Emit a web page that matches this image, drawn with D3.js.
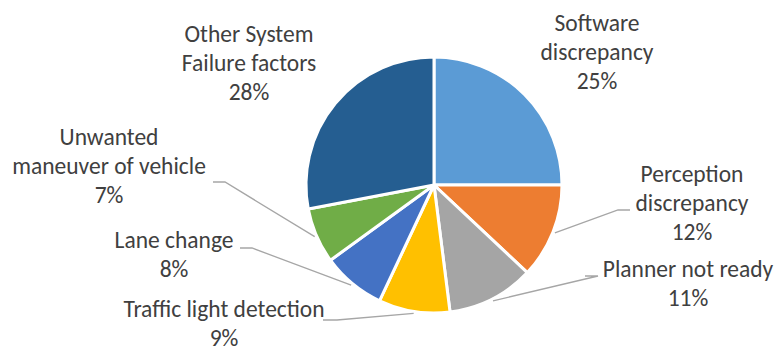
<!DOCTYPE html>
<html>
<head>
<meta charset="utf-8">
<script src="https://cdn.jsdelivr.net/npm/d3@7/dist/d3.min.js"></script>
<style>
  html, body { margin: 0; padding: 0; background: #fff; }
  svg { display: block; }
  text { font-family: Carlito, Lato, "Open Sans", sans-serif; fill: #404040; }
</style>
</head>
<body>
<svg id="chart" width="779" height="352"></svg>
<script>
// ---- data ----
const categories = [
  "Software discrepancy",
  "Perception discrepancy",
  "Planner not ready",
  "Traffic light detection",
  "Lane change",
  "Unwanted maneuver of vehicle",
  "Other System Failure factors"
];
const values = [25, 12, 11, 9, 8, 7, 28];
const percentLabels = ["25%", "12%", "11%", "9%", "8%", "7%", "28%"];
const labelLines = [
  ["Software", "discrepancy"],
  ["Perception", "discrepancy"],
  ["Planner not ready"],
  ["Traffic light detection"],
  ["Lane change"],
  ["Unwanted", "maneuver of vehicle"],
  ["Other System", "Failure factors"]
];
const colors = ["#5B9BD5", "#ED7D31", "#A5A5A5", "#FFC000", "#4472C4", "#70AD47", "#255E91"];

// ---- layout (label anchors & leader elbows) ----
const labelLayout = [
  { x: 597, y: 31, leader: null },
  { x: 692, y: 182, leader: [[618, 210], [630, 210]] },
  { x: 688, y: 277, leader: [[598, 276], [585, 276]] },
  { x: 224, y: 317, leader: [[337, 320], [323, 320]] },
  { x: 174, y: 248, leader: [[252, 248], [240, 248]] },
  { x: 109, y: 145, leader: [[225, 182], [213, 182]] },
  { x: 249, y: 42, leader: null }
];
const cx = 434, cy = 185, radius = 128, lineH = 29, fontSize = 23.5;

const svg = d3.select("#chart");
const g = svg.append("g").attr("transform", `translate(${cx},${cy})`);

const pie = d3.pie().sort(null).value(d => d)(values);
const arc = d3.arc().innerRadius(0).outerRadius(radius);
const leaderArc = d3.arc().innerRadius(radius + 2).outerRadius(radius + 2);

g.selectAll("path.slice")
  .data(pie)
  .join("path")
  .attr("class", "slice")
  .attr("d", arc)
  .attr("fill", (d, i) => colors[i])
  .attr("stroke", "#fff")
  .attr("stroke-width", 3)
  .attr("stroke-linejoin", "round");

// leader lines
const line = d3.line();
pie.forEach((d, i) => {
  const lay = labelLayout[i];
  if (!lay.leader) return;
  const c = leaderArc.centroid(d);
  const start = [cx + c[0], cy + c[1]];
  svg.append("path")
    .attr("d", line([start, ...lay.leader]))
    .attr("fill", "none")
    .attr("stroke", "#a6a6a6")
    .attr("stroke-width", 1.3);
});

// labels
pie.forEach((d, i) => {
  const lay = labelLayout[i];
  const t = svg.append("text")
    .attr("text-anchor", "middle")
    .attr("font-size", fontSize);
  const lines = [...labelLines[i], percentLabels[i]];
  lines.forEach((s, k) => {
    t.append("tspan").attr("x", lay.x).attr("y", lay.y + k * lineH).text(s);
  });
});
</script>
</body>
</html>
